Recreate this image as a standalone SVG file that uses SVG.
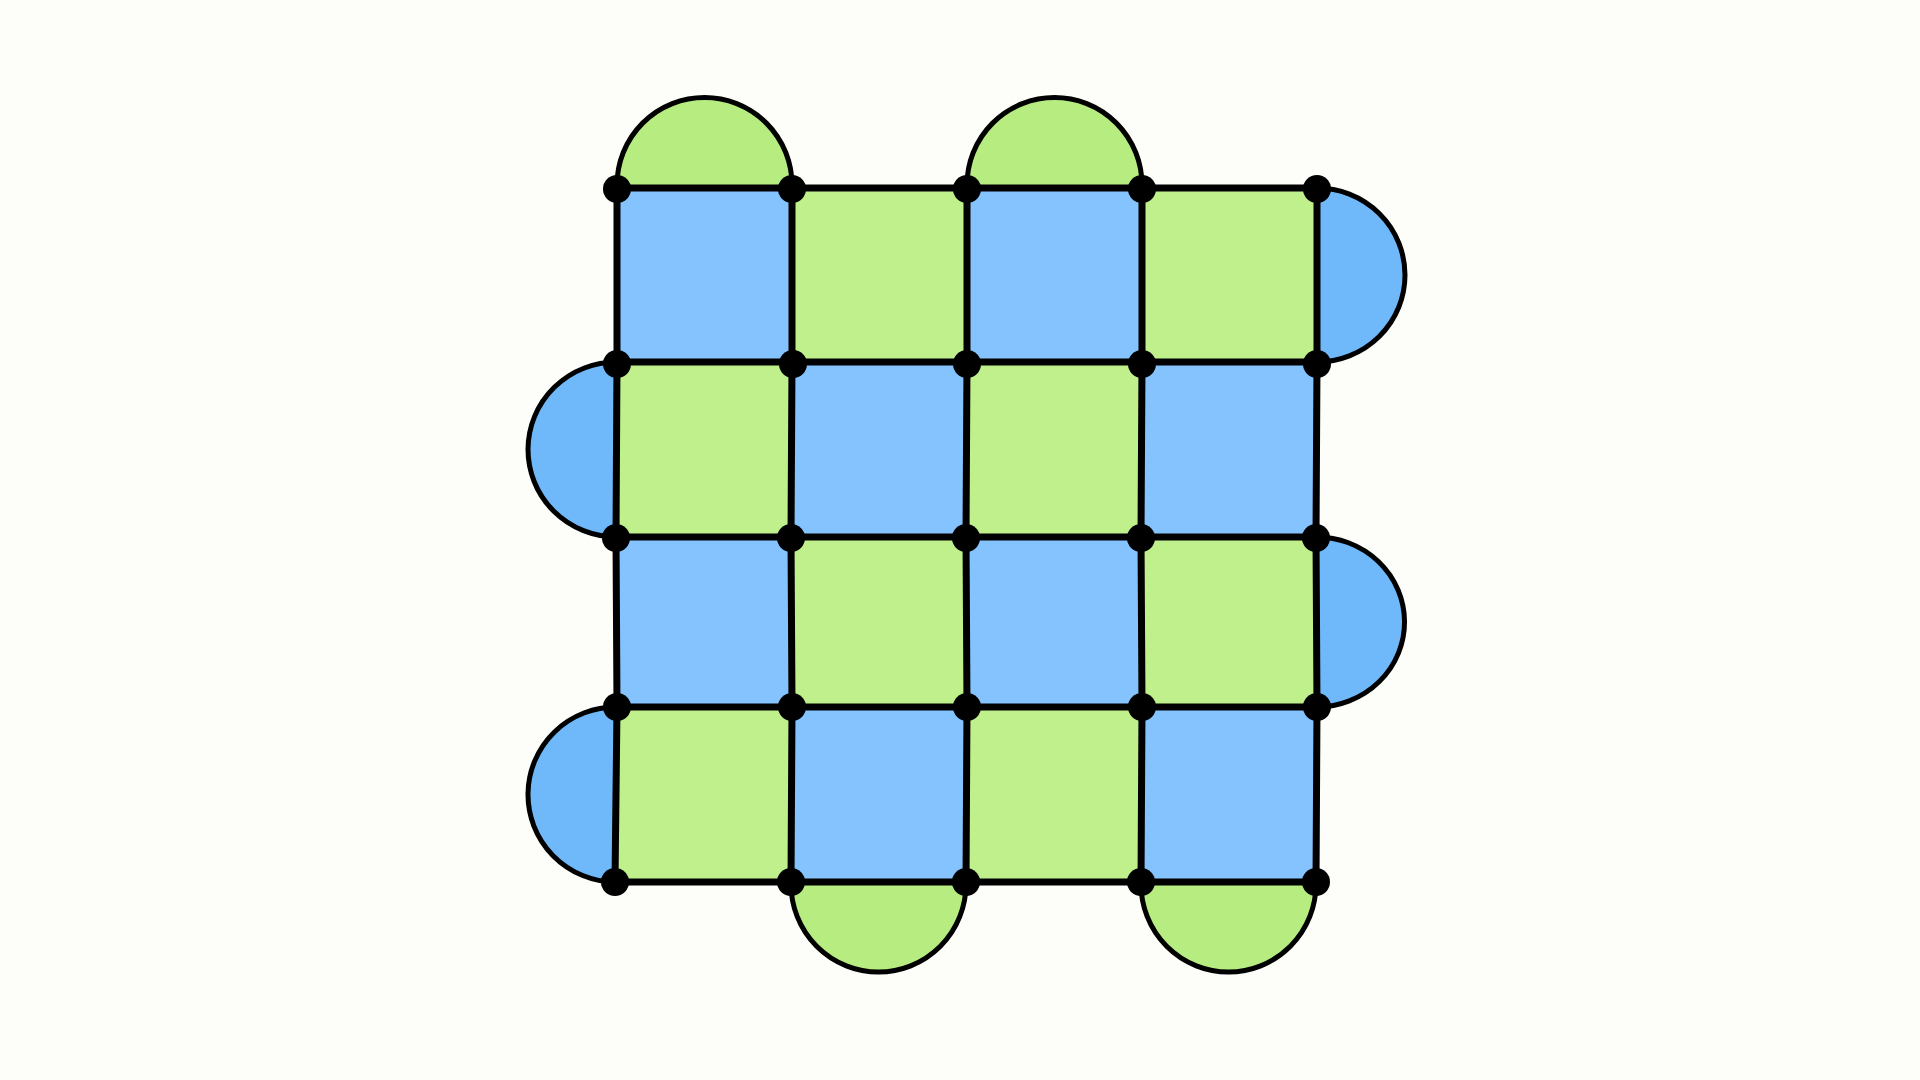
<svg xmlns="http://www.w3.org/2000/svg" width="1920" height="1080" viewBox="0 0 1920 1080">
<style>
.b{fill:#84C3FD}
.g{fill:#C0F08C}
.sb{fill:#6FB9FB;stroke:#000;stroke-width:5}
.sg{fill:#B6EC80;stroke:#000;stroke-width:5}
.ln{fill:none;stroke:#000;stroke-width:7;stroke-linejoin:round;stroke-linecap:round}
.dot{fill:#000}
</style>
<rect width="1920" height="1080" fill="#FDFDF9"/>
<g id="lobes">
<path id="lobe-top-1" class="sg" d="M617,188 L617,185 A87.5,87.5 0 0 1 792,185 L792,188 Z"/>
<path id="lobe-top-2" class="sg" d="M967,188 L967,185 A87.5,87.5 0 0 1 1142,185 L1142,188 Z"/>
<path id="lobe-right-1" class="sb" d="M1317,188 A88,87 0 1 1 1317,362 Z"/>
<path id="lobe-right-2" class="sb" d="M1316,537 A88,85 0 1 1 1317,707 Z"/>
<path id="lobe-left-1" class="sb" d="M617,362 A88,87 0 0 0 616,537 Z"/>
<path id="lobe-left-2" class="sb" d="M617,707 A88,87.5 0 0 0 615,882 Z"/>
<path id="lobe-bottom-1" class="sg" d="M791,882 L791,884 A87.5,88 0 0 0 966,884 L966,882 Z"/>
<path id="lobe-bottom-2" class="sg" d="M1141,882 L1141,884 A87.5,88 0 0 0 1316,884 L1316,882 Z"/>
</g>
<g id="cells">
<rect id="c00" class="b" x="617" y="188" width="175" height="174"/>
<rect id="c01" class="g" x="792" y="188" width="175" height="174"/>
<rect id="c02" class="b" x="967" y="188" width="175" height="174"/>
<rect id="c03" class="g" x="1142" y="188" width="175" height="174"/>
<rect id="c10" class="g" x="617" y="362" width="175" height="175"/>
<rect id="c11" class="b" x="792" y="362" width="175" height="175"/>
<rect id="c12" class="g" x="967" y="362" width="175" height="175"/>
<rect id="c13" class="b" x="1142" y="362" width="175" height="175"/>
<rect id="c20" class="b" x="616" y="537" width="175" height="170"/>
<rect id="c21" class="g" x="791" y="537" width="175" height="170"/>
<rect id="c22" class="b" x="966" y="537" width="175" height="170"/>
<rect id="c23" class="g" x="1141" y="537" width="176" height="170"/>
<rect id="c30" class="g" x="616" y="707" width="176" height="175"/>
<rect id="c31" class="b" x="791" y="707" width="175" height="175"/>
<rect id="c32" class="g" x="966" y="707" width="175" height="175"/>
<rect id="c33" class="b" x="1141" y="707" width="176" height="175"/>
</g>
<g id="connectors">
<polyline class="ln" points="617,188 792,188 967,188 1142,188 1317,188"/>
<polyline class="ln" points="617,362 792,362 967,362 1142,362 1317,362"/>
<polyline class="ln" points="616,537 791,537 966,537 1141,537 1316,537"/>
<polyline class="ln" points="617,707 792,707 967,707 1142,707 1317,707"/>
<polyline class="ln" points="615,882 791,882 966,882 1141,882 1316,882"/>
<polyline class="ln" points="617,188 617,362 616,537 617,707 615,882"/>
<polyline class="ln" points="792,188 792,362 791,537 792,707 791,882"/>
<polyline class="ln" points="967,188 967,362 966,537 967,707 966,882"/>
<polyline class="ln" points="1142,188 1142,362 1141,537 1142,707 1141,882"/>
<polyline class="ln" points="1317,188 1317,362 1316,537 1317,707 1316,882"/>
</g>
<g id="nodes">
<g id="n00"><circle class="dot" cx="617" cy="189" r="14"/></g>
<g id="n01"><circle class="dot" cx="792" cy="189" r="14"/></g>
<g id="n02"><circle class="dot" cx="967" cy="189" r="14"/></g>
<g id="n03"><circle class="dot" cx="1142" cy="189" r="14"/></g>
<g id="n04"><circle class="dot" cx="1317" cy="189" r="14"/></g>
<g id="n10"><circle class="dot" cx="617" cy="364" r="14"/></g>
<g id="n11"><circle class="dot" cx="793" cy="364" r="14"/></g>
<g id="n12"><circle class="dot" cx="967" cy="364" r="14"/></g>
<g id="n13"><circle class="dot" cx="1142" cy="364" r="14"/></g>
<g id="n14"><circle class="dot" cx="1317" cy="364" r="14"/></g>
<g id="n20"><circle class="dot" cx="616" cy="538" r="14"/></g>
<g id="n21"><circle class="dot" cx="791" cy="538" r="14"/></g>
<g id="n22"><circle class="dot" cx="966" cy="538" r="14"/></g>
<g id="n23"><circle class="dot" cx="1141" cy="538" r="14"/></g>
<g id="n24"><circle class="dot" cx="1316" cy="538" r="14"/></g>
<g id="n30"><circle class="dot" cx="617" cy="707" r="14"/></g>
<g id="n31"><circle class="dot" cx="792" cy="707" r="14"/></g>
<g id="n32"><circle class="dot" cx="967" cy="707" r="14"/></g>
<g id="n33"><circle class="dot" cx="1142" cy="707" r="14"/></g>
<g id="n34"><circle class="dot" cx="1317" cy="707" r="14"/></g>
<g id="n40"><circle class="dot" cx="615" cy="882" r="14"/></g>
<g id="n41"><circle class="dot" cx="791" cy="882" r="14"/></g>
<g id="n42"><circle class="dot" cx="966" cy="882" r="14"/></g>
<g id="n43"><circle class="dot" cx="1141" cy="882" r="14"/></g>
<g id="n44"><circle class="dot" cx="1316" cy="882" r="14"/></g>
</g>
</svg>
